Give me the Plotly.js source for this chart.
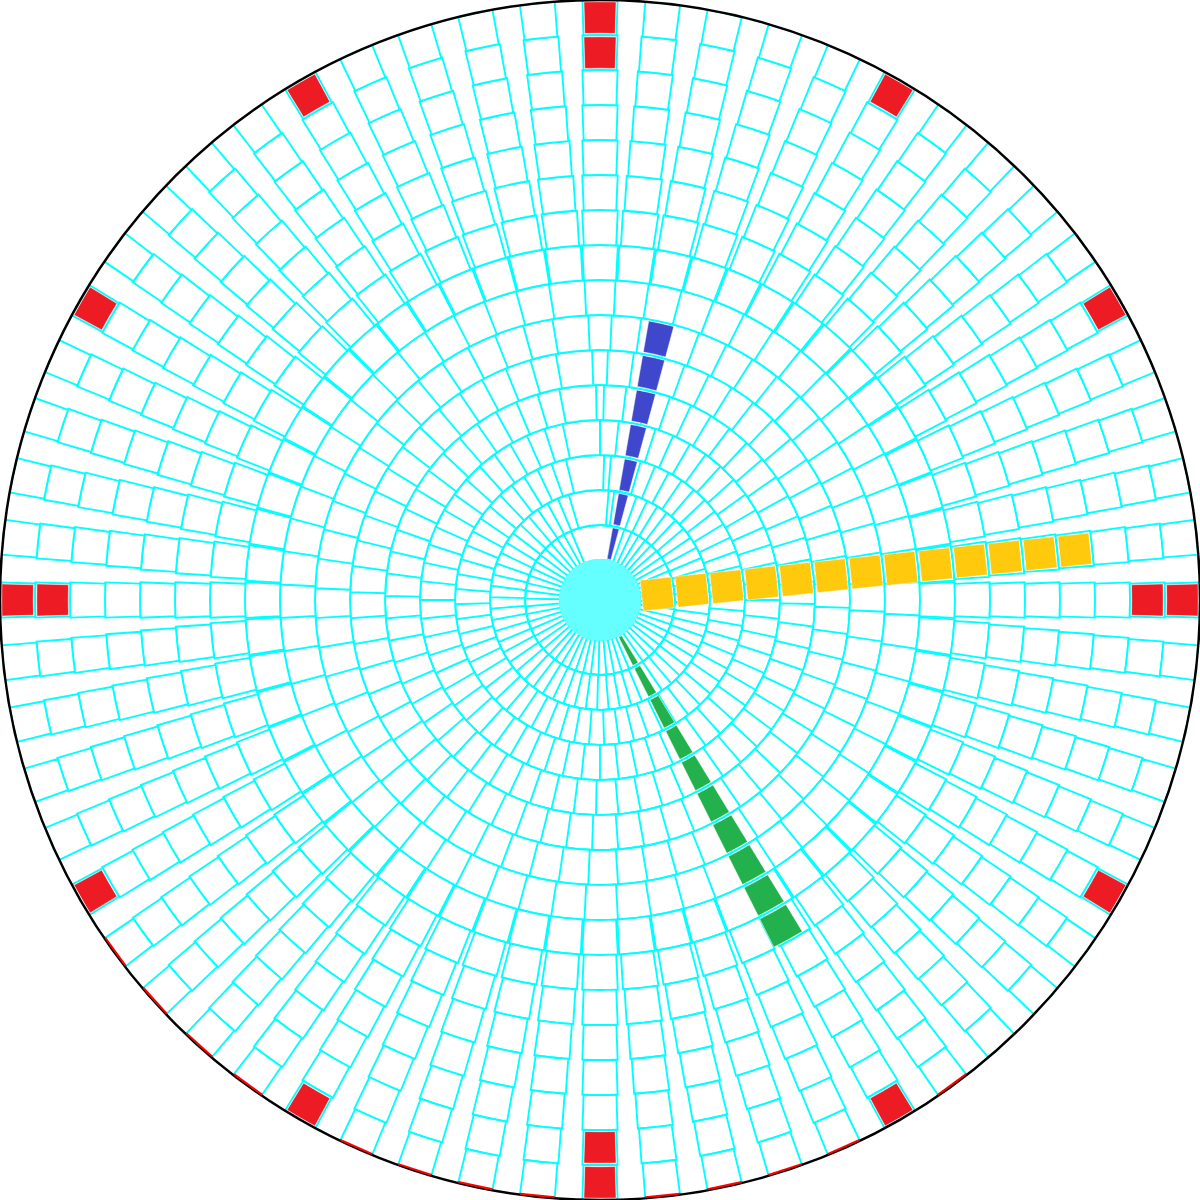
<!DOCTYPE html>
<html><head><meta charset="utf-8">
<script src="https://cdn.plot.ly/plotly-3.0.1.min.js"></script>
<style>html,body{margin:0;padding:0;background:#fff;overflow:hidden}</style>
</head><body><div id="chart" style="width:1200px;height:1200px"></div>
<script>
// ---- data ----
const minuteTicks = [0,6,12,18,24,30,36,42,48,54,60,66,72,78,84,90,96,102,108,114,
  120,126,132,138,144,150,156,162,168,174,180,186,192,198,204,210,216,222,228,234,
  240,246,252,258,264,270,276,282,288,294,300,306,312,318,324,330,336,342,348,354];
const ringCount = 16;
const hourMarks = [0,30,60,90,120,150,180,210,240,270,300,330];
const hourMarkDepth = [2,1,1,2,1,1,2,1,1,2,1,1];
const hourHand = {theta: 12.5, length: 7};
const minuteHand = {theta: 151, length: 10};
const secondHand = {theta: 84, length: 13};
const redRimColumns = [144,156,162,168,174,186,192,198,204,216,222,228,234];

// ---- geometry helpers (styles/positions) ----
const holeUnits = 40/35;            // centre disk radius in ring units
const pxPerUnit = 35;
const cellPx = 34;
function cellWidthDeg(k){ const rpx = (k+0.5+holeUnits)*pxPerUnit; return cellPx/rpx*180/Math.PI; }

// grid
const gT=[], gB=[], gR=[], gW=[];
for (let k=0;k<ringCount;k++){
  for (const t of minuteTicks){ gT.push(t); gB.push(k); gR.push(1); gW.push(cellWidthDeg(k)); }
}
// red hour marks
const rT=[], rB=[], rR=[], rW=[];
hourMarks.forEach((t,i)=>{
  for (let d=0; d<hourMarkDepth[i]; d++){
    const k = ringCount-1-d;
    rT.push(t); rB.push(k+0.05); rR.push(0.9); rW.push(cellWidthDeg(k)*0.92);
  }
});
function handBars(h, w){
  const T=[],B=[],R=[],W=[];
  for (let k=0;k<h.length;k++){ T.push(h.theta); B.push(k+0.05); R.push(0.9); W.push(w); }
  return {T,B,R,W};
}
const hb = handBars(hourHand, 5.2);
const mb = handBars(minuteHand, 4.8);
const sT=[], sR=[];
for (let k=0;k<secondHand.length;k++){ sT.push(secondHand.theta); sR.push(k+0.5); }
// red rim arcs
const rimW = cellWidthDeg(ringCount-1);
const arcT=[], arcR=[];
for (const c of redRimColumns){ arcT.push(c-rimW/2, c+rimW/2, null); arcR.push(ringCount-0.02, ringCount-0.02, null); }

const traces = [
  {type:'barpolar', theta:gT, base:gB, r:gR, width:gW, hoverinfo:'skip',
   marker:{color:'white', line:{color:'#00ffff', width:1.9}}},
  {type:'barpolar', theta:rT, base:rB, r:rR, width:rW, hoverinfo:'skip',
   marker:{color:'#ED1C24', line:{color:'white', width:0.5}}},
  {type:'barpolar', theta:hb.T, base:hb.B, r:hb.R, width:hb.W, hoverinfo:'skip',
   marker:{color:'#3F48CC', line:{color:'white', width:0.5}}},
  {type:'barpolar', theta:mb.T, base:mb.B, r:mb.R, width:mb.W, hoverinfo:'skip',
   marker:{color:'#22B14C', line:{color:'white', width:0.5}}},
  {type:'scatterpolar', mode:'markers', theta:sT, r:sR, hoverinfo:'skip',
   marker:{symbol:'square', size:31, angle:secondHand.theta-90, color:'#FFC90E', line:{color:'white', width:0.5}}},
  {type:'scatterpolar', mode:'markers', theta:[0], r:[-holeUnits], hoverinfo:'skip', cliponaxis:false,
   marker:{symbol:'circle', size:82, color:'#66FFFF', line:{width:0}}},
  {type:'scatterpolar', subplot:'polar2', mode:'lines', theta:arcT, r:arcR, hoverinfo:'skip', cliponaxis:false, connectgaps:false,
   line:{color:'#ff0000', width:2.5}}
];

const angCommon = {direction:'clockwise', rotation:90, showgrid:false, showticklabels:false, ticks:''};
const layout = {
  width:1200, height:1200, margin:{l:0,r:0,t:0,b:0}, showlegend:false,
  paper_bgcolor:'white',
  polar:{
    domain:{x:[0,1], y:[0,1]}, bgcolor:'white', barmode:'overlay',
    angularaxis:Object.assign({showline:true, linecolor:'black', linewidth:2.5, layer:'above traces'}, angCommon),
    radialaxis:{range:[-holeUnits, ringCount], visible:false}
  },
  polar2:{
    domain:{x:[0,1], y:[0,1]}, bgcolor:'rgba(0,0,0,0)',
    angularaxis:Object.assign({showline:false}, angCommon),
    radialaxis:{range:[-holeUnits, ringCount], visible:false}
  }
};
Plotly.newPlot('chart', traces, layout, {staticPlot:true});
</script></body></html>
